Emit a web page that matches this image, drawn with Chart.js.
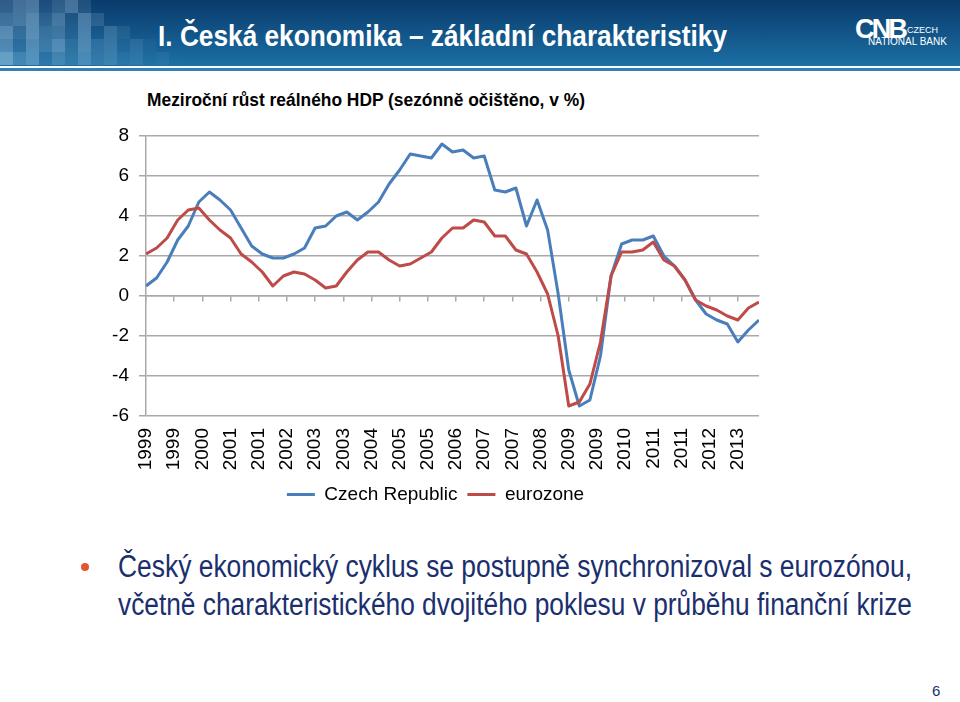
<!DOCTYPE html>
<html><head><meta charset="utf-8">
<script src="https://cdn.jsdelivr.net/npm/chart.js@4.4.1/dist/chart.umd.min.js"></script>
<style>
html,body{margin:0;padding:0;background:#fff;}
body{width:960px;height:702px;position:relative;overflow:hidden;font-family:"Liberation Sans",Arial,sans-serif;}
#banner{position:absolute;left:0;top:0;width:960px;height:66px;background:linear-gradient(#0a3a6c,#1b6fa4);overflow:hidden;}
#bline{position:absolute;left:0;top:68px;width:960px;height:3px;background:#2f80bb;}
.sq{position:absolute;width:13px;height:13px;background:#b4d6ee;}
.fit{position:absolute;white-space:nowrap;transform-origin:0 0;line-height:1;}
#title{left:158px;top:21px;font-size:30px;font-weight:bold;color:#fff;}
#logo1{left:855px;top:16px;font-size:27px;font-weight:bold;color:#fff;letter-spacing:-3px;}
#logo2{left:907px;top:26px;font-size:9px;color:#fff;}
#logo3{left:868px;top:37px;font-size:10px;color:#fff;}
#subtitle{left:147px;top:91px;font-size:18px;font-weight:bold;color:#000;}
.bul{font-size:31px;color:#1b2f6e;}
#b1{left:118px;top:551px;}
#b2{left:118px;top:589px;}
#dot{position:absolute;left:81px;top:563px;width:8px;height:8px;border-radius:50%;background:#e4572e;}
#page{left:932px;top:683px;font-size:15px;color:#1b2f6e;}
#wrap{position:absolute;left:0;top:110px;width:875px;height:404px;}
</style></head>
<body>
<div id="banner"></div>
<div id="bline"></div>
<div class="fit" id="title" data-w="569">I. Česká ekonomika – základní charakteristiky</div>
<div class="fit" id="logo1" data-w="50">CNB</div>
<div class="fit" id="logo2">CZECH</div>
<div class="fit" id="logo3">NATIONAL BANK</div>
<div class="fit" id="subtitle" data-w="438">Meziroční růst reálného HDP (sezónně očištěno, v %)</div>
<div id="wrap"><canvas id="c" width="875" height="404"></canvas></div>
<div id="dot"></div>
<div class="fit bul" id="b1" data-w="794">Český ekonomický cyklus se postupně synchronizoval s eurozónou,</div>
<div class="fit bul" id="b2" data-w="794">včetně charakteristického dvojitého poklesu v průběhu finanční krize</div>
<div class="fit" id="page">6</div>
<script>
// ---- data ----
const quarters = [
 '1999Q1','1999Q2','1999Q3','1999Q4','2000Q1','2000Q2','2000Q3','2000Q4',
 '2001Q1','2001Q2','2001Q3','2001Q4','2002Q1','2002Q2','2002Q3','2002Q4',
 '2003Q1','2003Q2','2003Q3','2003Q4','2004Q1','2004Q2','2004Q3','2004Q4',
 '2005Q1','2005Q2','2005Q3','2005Q4','2006Q1','2006Q2','2006Q3','2006Q4',
 '2007Q1','2007Q2','2007Q3','2007Q4','2008Q1','2008Q2','2008Q3','2008Q4',
 '2009Q1','2009Q2','2009Q3','2009Q4','2010Q1','2010Q2','2010Q3','2010Q4',
 '2011Q1','2011Q2','2011Q3','2011Q4','2012Q1','2012Q2','2012Q3','2012Q4',
 '2013Q1','2013Q2','2013Q3'];
const czechRepublic = [
 0.5,0.9,1.7,2.8,3.5,4.7,5.2,4.8,
 4.3,3.4,2.5,2.1,1.9,1.9,2.1,2.4,
 3.4,3.5,4.0,4.2,3.8,4.2,4.7,5.6,
 6.3,7.1,7.0,6.9,7.6,7.2,7.3,6.9,
 7.0,5.3,5.2,5.4,3.5,4.8,3.3,0.1,
 -3.7,-5.5,-5.2,-3.0,1.0,2.6,2.8,2.8,
 3.0,2.0,1.5,0.8,-0.2,-0.9,-1.2,-1.4,
 -2.3,-1.7,-1.2];
const eurozone = [
 2.1,2.4,2.9,3.8,4.3,4.4,3.8,3.3,
 2.9,2.1,1.7,1.2,0.5,1.0,1.2,1.1,
 0.8,0.4,0.5,1.2,1.8,2.2,2.2,1.8,
 1.5,1.6,1.9,2.2,2.9,3.4,3.4,3.8,
 3.7,3.0,3.0,2.3,2.1,1.2,0.1,-2.0,
 -5.5,-5.3,-4.4,-2.3,1.0,2.2,2.2,2.3,
 2.7,1.8,1.5,0.8,-0.2,-0.5,-0.7,-1.0,
 -1.2,-0.6,-0.3];
const tickLabels = ['1999','1999','2000','2001','2001','2002','2003','2003','2004','2005','2005',
 '2006','2007','2007','2008','2009','2009','2010','2011','2011','2012','2013'];
const seriesNames = ['Czech Republic','eurozone'];

// ---- banner mosaic (decoration) ----
const mosaic = [
 '3562473',
 '45736284',
 '6374528163',
 '526473846252',
 '74625374635241'];
const banner = document.getElementById('banner');
mosaic.forEach((row, r) => {
  [...row].forEach((ch, c) => {
    const d = document.createElement('div');
    d.className = 'sq';
    d.style.left = (c * 13) + 'px';
    d.style.top = (r * 13) + 'px';
    d.style.opacity = (+ch) / 14 * (1 - c / 16);
    banner.appendChild(d);
  });
});

// ---- text width fitting ----
document.querySelectorAll('.fit[data-w]').forEach(el => {
  const w = el.getBoundingClientRect().width;
  el.style.transform = 'scaleX(' + (+el.dataset.w / w) + ')';
});

// ---- chart ----
const MONTHS_PER_QUARTER = 3, MONTHS_PER_TICK = 8;
const xMax = (quarters.length - 1) * MONTHS_PER_QUARTER;
const setTicks = s => { s.ticks = tickLabels.map((t, k) => ({ value: k * MONTHS_PER_TICK })); };
const toPts = arr => arr.map((v, i) => ({ x: i * MONTHS_PER_QUARTER, y: v }));
const gridCol = '#a9a9a9';

Chart.defaults.font.family = '"Liberation Sans", Arial, sans-serif';
Chart.defaults.color = '#000';

new Chart(document.getElementById('c'), {
  type: 'line',
  data: {
    datasets: [
      { label: seriesNames[0], data: toPts(czechRepublic), borderColor: '#4a7ebb', backgroundColor: '#4a7ebb',
        borderWidth: 3, pointRadius: 0, tension: 0, borderJoinStyle: 'round', order: 1 },
      { label: seriesNames[1], data: toPts(eurozone), borderColor: '#be4b48', backgroundColor: '#be4b48',
        borderWidth: 3, pointRadius: 0, tension: 0, borderJoinStyle: 'round', order: 0 }
    ]
  },
  options: {
    responsive: false,
    animation: false,
    layout: { padding: { top: 26, right: 116, left: 112, bottom: 0 } },
    plugins: {
      title: { display: false },
      tooltip: { enabled: false },
      legend: {
        position: 'bottom',
        labels: {
          boxWidth: 28, boxHeight: 3, padding: 10, color: '#000', font: { size: 19 },
          sort: (a, b) => a.datasetIndex - b.datasetIndex,
          generateLabels(chart) {
            const items = Chart.defaults.plugins.legend.labels.generateLabels(chart);
            items.forEach(it => { it.lineWidth = 0; it.fillStyle = it.strokeStyle; });
            return items;
          }
        }
      }
    },
    scales: {
      x: {
        type: 'linear', min: 0, max: xMax,
        afterBuildTicks: setTicks,
        ticks: { autoSkip: false, minRotation: 90, maxRotation: 90, padding: 12, font: { size: 19 },
          callback: (v, i) => tickLabels[i] },
        grid: { display: false, drawTicks: false },
        border: { display: false },
        afterFit: s => { s.height = 59; }
      },
      x0: {
        type: 'linear', axis: 'x', position: { y: 0 }, min: 0, max: xMax,
        afterBuildTicks: setTicks,
        ticks: { display: false },
        grid: { drawOnChartArea: false, drawTicks: true, tickLength: 5, color: gridCol, lineWidth: 1.5 },
        border: { display: true, color: gridCol, width: 1.5 }
      },
      y: {
        min: -6, max: 8,
        ticks: { stepSize: 2, padding: 10, font: { size: 19 } },
        grid: { color: gridCol, lineWidth: 1.5, tickLength: 7 },
        border: { color: gridCol, width: 1.5 },
        afterFit: s => { s.width = 34; }
      }
    }
  }
});
</script>
</body></html>
